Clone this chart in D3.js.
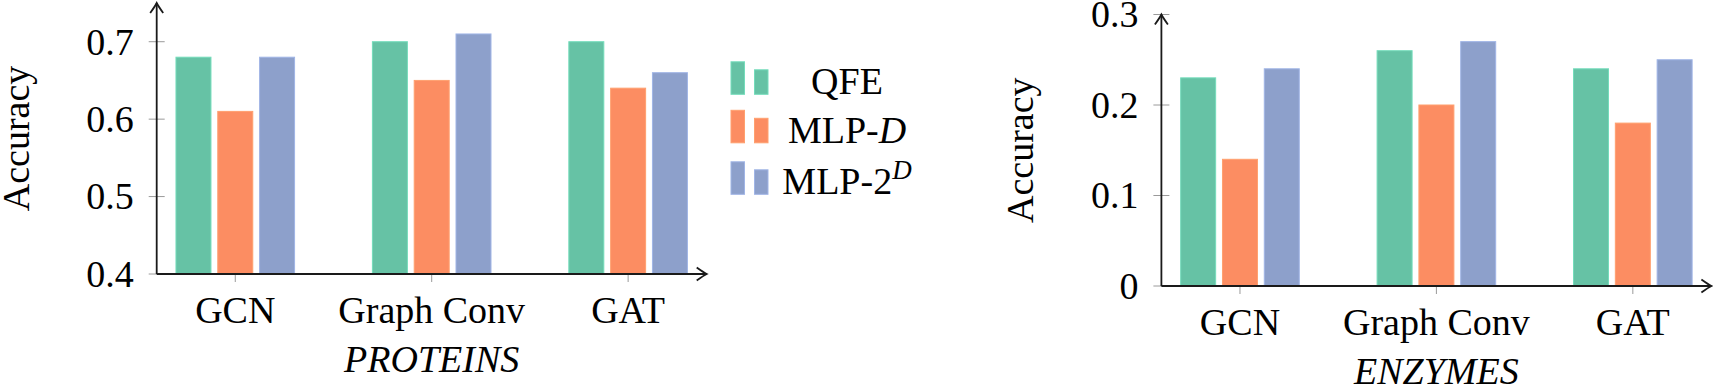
<!DOCTYPE html>
<html>
<head>
<meta charset="utf-8">
<script src="https://cdn.jsdelivr.net/npm/d3@7"></script>
<style>
  html, body { margin: 0; padding: 0; background: #fff; }
</style>
</head>
<body>
<div id="chart"></div>
<script>
// categories and series
const categories = ["GCN", "Graph Conv", "GAT"];
const seriesKeys = ["QFE", "MLP-D", "MLP-2D"];
const seriesColors = ["#66c2a5", "#fc8d62", "#8da0cb"];

// PROTEINS accuracies
const proteinsQFE = [0.68, 0.70, 0.70];
const proteinsMLPD = [0.61, 0.65, 0.64];
const proteinsMLP2D = [0.68, 0.71, 0.66];
const proteinsTicks = [0.4, 0.5, 0.6, 0.7];

// ENZYMES accuracies
const enzymesQFE = [0.23, 0.26, 0.24];
const enzymesMLPD = [0.14, 0.20, 0.18];
const enzymesMLP2D = [0.24, 0.27, 0.25];
const enzymesTicks = [0, 0.1, 0.2, 0.3];

const W = 1713, H = 388;
const fontSize = 38;
const serif = "'Liberation Serif', 'Times New Roman', Times, 'DejaVu Serif', serif";

const svg = d3.select("#chart").append("svg")
    .attr("width", W)
    .attr("height", H)
    .attr("font-family", serif)
    .style("font-family", serif);

function arrowPath() {
    // LaTeX style "to" arrow head, tip at (0,0) pointing right
    return "M-10,-6.5 Q-3,-1.5 0,0 Q-3,1.5 -10,6.5";
}

function addText(sel) {
    return sel.append("text")
        .attr("font-family", serif)
        .attr("font-size", fontSize)
        .attr("fill", "#000");
}

function drawPanel(opts) {
    const g = svg.append("g").attr("transform", `translate(${opts.left},0)`);

    const x0 = d3.scalePoint().domain(categories).range([0, opts.axisWidth]).padding(0.4);
    const x1 = d3.scaleBand().domain(seriesKeys).range([-59.3, 59.3]).paddingInner(0.163);
    const y = d3.scaleLinear().domain(opts.yDomain).range([opts.bottom, opts.top]);

    const rows = categories.map((c, i) => ({
        cat: c,
        values: seriesKeys.map((k, j) => ({ key: k, value: opts.series[j][i], color: seriesColors[j] }))
    }));

    // y ticks (gray, both sides)
    g.selectAll(".ytick").data(opts.ticks).enter()
        .append("line")
        .attr("x1", -8).attr("x2", 8)
        .attr("y1", d => y(d)).attr("y2", d => y(d))
        .attr("stroke", "#9a9a9a").attr("stroke-width", 1);

    // x ticks
    g.selectAll(".xtick").data(categories).enter()
        .append("line")
        .attr("x1", d => x0(d)).attr("x2", d => x0(d))
        .attr("y1", opts.bottom - 8).attr("y2", opts.bottom + 8)
        .attr("stroke", "#9a9a9a").attr("stroke-width", 1);

    // bars
    const groups = g.selectAll(".grp").data(rows).enter()
        .append("g")
        .attr("transform", d => `translate(${x0(d.cat)},0)`);

    groups.selectAll("rect").data(d => d.values).enter()
        .append("rect")
        .attr("x", d => x1(d.key))
        .attr("width", x1.bandwidth())
        .attr("y", d => y(d.value))
        .attr("height", d => y(opts.yDomain[0]) - y(d.value))
        .attr("fill", d => d.color)
        .attr("stroke", d => d3.color(d.color).brighter(0.35))
        .attr("stroke-width", 1);

    // axes lines with arrows
    const axisColor = "#1a1a1a";
    g.append("line")
        .attr("x1", 0).attr("x2", 0)
        .attr("y1", opts.bottom).attr("y2", opts.top)
        .attr("stroke", axisColor).attr("stroke-width", 1.8);
    g.append("path")
        .attr("d", arrowPath())
        .attr("transform", `translate(0,${opts.top}) rotate(-90)`)
        .attr("fill", "none").attr("stroke", axisColor).attr("stroke-width", 1.8);

    g.append("line")
        .attr("x1", 0).attr("x2", opts.axisWidth)
        .attr("y1", opts.bottom).attr("y2", opts.bottom)
        .attr("stroke", axisColor).attr("stroke-width", 1.8);
    g.append("path")
        .attr("d", arrowPath())
        .attr("transform", `translate(${opts.axisWidth},${opts.bottom})`)
        .attr("fill", "none").attr("stroke", axisColor).attr("stroke-width", 1.8);

    // y tick labels
    opts.ticks.forEach(t => {
        addText(g)
            .attr("x", -23)
            .attr("y", y(t))
            .attr("dy", "0.34em")
            .attr("text-anchor", "end")
            .text(t === 0 ? "0" : d3.format(".1f")(t));
    });

    // x tick labels
    categories.forEach(c => {
        addText(g)
            .attr("x", x0(c))
            .attr("y", opts.bottom + 49)
            .attr("text-anchor", "middle")
            .text(c);
    });

    // dataset name
    addText(g)
        .attr("x", x0(categories[1]))
        .attr("y", opts.bottom + 98)
        .attr("text-anchor", "middle")
        .attr("font-style", "italic")
        .text(opts.title);

    // y label
    addText(g)
        .attr("transform", `translate(-128,${(opts.top + opts.bottom) / 2}) rotate(-90)`)
        .attr("text-anchor", "middle")
        .text("Accuracy");
}

drawPanel({
    left: 156.7,
    axisWidth: 550,
    top: 3,
    bottom: 274,
    yDomain: [0.4, 0.75],
    ticks: proteinsTicks,
    series: [proteinsQFE, proteinsMLPD, proteinsMLP2D],
    title: "PROTEINS"
});

drawPanel({
    left: 1161.4,
    axisWidth: 550,
    top: 14.5,
    bottom: 286,
    yDomain: [0, 0.3],
    ticks: enzymesTicks,
    series: [enzymesQFE, enzymesMLPD, enzymesMLP2D],
    title: "ENZYMES"
});

// legend
const legend = svg.append("g").attr("transform", "translate(731,0)");
const legendBase = [94.3, 142.8, 194.3];

const items = legend.selectAll(".item").data(seriesKeys).enter()
    .append("g")
    .attr("transform", (d, i) => `translate(0,${legendBase[i]})`);

items.append("rect")
    .attr("x", 0).attr("y", -32.5)
    .attr("width", 13.5).attr("height", 32.5)
    .attr("fill", (d, i) => seriesColors[i])
    .attr("stroke", (d, i) => d3.color(seriesColors[i]).brighter(0.35))
    .attr("stroke-width", 1);
items.append("rect")
    .attr("x", 23.5).attr("y", -24.5)
    .attr("width", 13.5).attr("height", 24.5)
    .attr("fill", (d, i) => seriesColors[i])
    .attr("stroke", (d, i) => d3.color(seriesColors[i]).brighter(0.35))
    .attr("stroke-width", 1);

items.each(function(d) {
    const t = addText(d3.select(this))
        .attr("x", 116)
        .attr("y", 0)
        .attr("text-anchor", "middle");
    if (d === "QFE") {
        t.text("QFE");
    } else if (d === "MLP-D") {
        t.append("tspan").text("MLP-");
        t.append("tspan").attr("font-style", "italic").text("D");
    } else {
        t.append("tspan").text("MLP-2");
        t.append("tspan").attr("font-style", "italic").attr("font-size", 27)
            .attr("dy", -15).text("D");
    }
});
</script>
</body>
</html>
